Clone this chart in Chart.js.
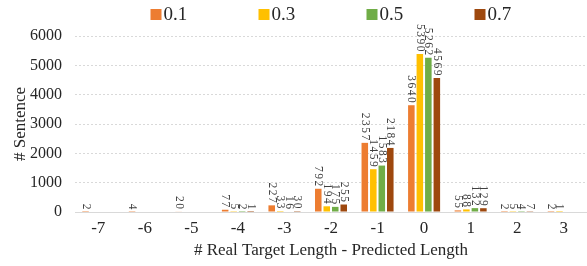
<!DOCTYPE html>
<html>
<head>
<meta charset="utf-8">
<script src="https://cdn.jsdelivr.net/npm/chart.js@4/dist/chart.umd.min.js"></script>
<style>
  html, body { margin: 0; padding: 0; background: #fff; }
  #wrap { width: 587px; height: 266px; position: relative; }
</style>
</head>
<body>
<div id="wrap"><canvas id="chart"></canvas></div>
<script>
var categories = ['-7', '-6', '-5', '-4', '-3', '-2', '-1', '0', '1', '2', '3'];
var seriesNames = ['0.1', '0.3', '0.5', '0.7'];
var seriesColors = ['#ED7D31', '#FFC000', '#70AD47', '#9E480E'];
var s01 = [2, 4, 20, 77, 227, 792, 2357, 3640, 55, 2, 2];
var s03 = [null, null, null, 5, 33, 194, 1459, 5390, 88, 5, 1];
var s05 = [null, null, null, 2, 16, 175, 1583, 5262, 132, 4, null];
var s07 = [null, null, null, 1, 30, 255, 2184, 4569, 129, 7, null];
var yTicks = [0, 1000, 2000, 3000, 4000, 5000, 6000];

var serif = "'Liberation Serif', 'Times New Roman', serif";

// rotated value labels above each bar
var barLabels = {
  id: 'barLabels',
  afterDatasetsDraw: function(chart) {
    var ctx = chart.ctx;
    ctx.save();
    ctx.font = '11.5px ' + serif;
    if ('letterSpacing' in ctx) ctx.letterSpacing = '1.5px';
    ctx.fillStyle = '#404040';
    ctx.textAlign = 'right';
    ctx.textBaseline = 'middle';
    chart.data.datasets.forEach(function(ds, i) {
      var meta = chart.getDatasetMeta(i);
      meta.data.forEach(function(bar, j) {
        var v = ds.data[j];
        if (v === null || v === undefined) return;
        ctx.save();
        ctx.translate(bar.x, bar.y - 1);
        ctx.rotate(Math.PI / 2);
        ctx.fillText(String(v), 0, 0);
        ctx.restore();
      });
    });
    ctx.restore();
  }
};

// legend drawn across the top
var topLegend = {
  id: 'topLegend',
  afterDraw: function(chart) {
    var ctx = chart.ctx;
    var area = chart.chartArea;
    var step = 108;
    var n = chart.data.datasets.length;
    var start = (area.left + area.right) / 2 - (step * (n - 1) + 37) / 2;
    ctx.save();
    ctx.font = '19px ' + serif;
    ctx.textBaseline = 'middle';
    ctx.textAlign = 'left';
    chart.data.datasets.forEach(function(ds, i) {
      var x = start + i * step;
      ctx.fillStyle = ds.backgroundColor;
      ctx.fillRect(x, 9, 11, 11);
      ctx.fillStyle = '#262626';
      ctx.fillText(ds.label, x + 13, 15);
    });
    ctx.restore();
  }
};

var seriesData = [s01, s03, s05, s07];
var datasets = seriesNames.map(function(name, i) {
  return {
    label: name,
    data: seriesData[i],
    backgroundColor: seriesColors[i],
    borderWidth: 0,
    categoryPercentage: 0.73,
    barPercentage: 0.77
  };
});

new Chart(document.getElementById('chart'), {
  type: 'bar',
  data: { labels: categories, datasets: datasets },
  plugins: [barLabels, topLegend],
  options: {
    responsive: true,
    maintainAspectRatio: false,
    animation: false,
    layout: { padding: { top: 36, left: 0, right: 0, bottom: 0 } },
    plugins: {
      legend: { display: false },
      tooltip: { enabled: false }
    },
    scales: {
      x: {
        grid: { display: false, drawTicks: false },
        border: { display: true, color: '#d9d9d9', width: 1 },
        ticks: {
          color: '#262626',
          font: { family: serif, size: 17 },
          padding: 6,
          maxRotation: 0
        },
        title: {
          display: true,
          text: '# Real Target Length - Predicted Length',
          color: '#262626',
          font: { family: serif, size: 17 },
          padding: { top: 0, bottom: 5 }
        },
        afterFit: function(s) { s.height = 54; }
      },
      y: {
        min: 0,
        max: 6000,
        afterBuildTicks: function(s) {
          s.ticks = yTicks.map(function(v) { return { value: v }; });
        },
        grid: {
          color: function(c) { return c.tick && c.tick.value === 0 ? 'rgba(0,0,0,0)' : '#d9d9d9'; },
          lineWidth: 1,
          drawTicks: false
        },
        border: { display: false, dash: [2, 2] },
        ticks: {
          color: '#262626',
          font: { family: serif, size: 16 },
          padding: 13,
          callback: function(v) { return String(v); }
        },
        title: {
          display: true,
          text: '# Sentence',
          color: '#262626',
          font: { family: serif, size: 17 },
          padding: { top: 10, bottom: 4 }
        },
        afterFit: function(s) { s.width = 75; }
      }
    }
  }
});
</script>
</body>
</html>
